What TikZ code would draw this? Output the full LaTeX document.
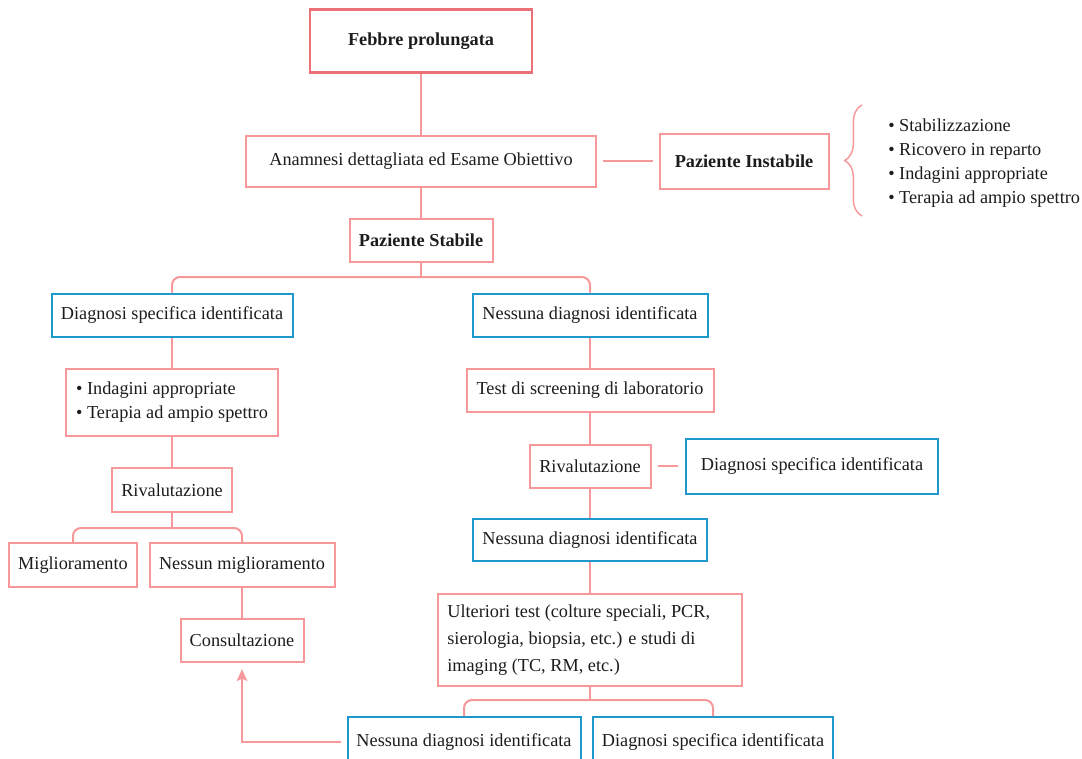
\documentclass[tikz,border=0pt]{standalone}
\usepackage{fontspec}
\setmainfont{Liberation Serif}
\usepackage{tikz}
\usetikzlibrary{arrows.meta}
\usetikzlibrary{decorations.pathreplacing}
\definecolor{pinkline}{RGB}{246,152,154}
\definecolor{febred}{RGB}{236,112,120}
\definecolor{diagblue}{RGB}{30,152,200}
\definecolor{darktext}{RGB}{28,28,28}
\tikzset{dim/.style 2 args = {minimum width=#1*0.75pt,minimum height=#2*0.75pt}}

\begin{document}
\begin{tikzpicture}[x=0.75pt,y=-0.75pt]
\tikzset{box/.style = {draw=pinkline,line width=1.5pt,inner sep=0pt,text=darktext,font=\fontsize{13.7}{18}\selectfont}}
\tikzset{bluebox/.style = {box,draw=diagblue}}
\tikzset{bold/.style = {font=\fontsize{13.7}{18}\selectfont\bfseries}}
\tikzset{link/.style = {draw=pinkline,line width=1.5pt}}
\useasboundingbox (0,0) rectangle (1082,758);
% top
\node[box,bold,dim={222}{63},draw=febred,line width=1.9pt](febbre) at (421,41) {Febbre prolungata};
\node[box,dim={350}{51}](anamnesi) at (421,161) {Anamnesi dettagliata ed Esame Obiettivo};
\node[box,bold,dim={169}{55}](instabile) at (744,161) {Paziente Instabile};
\node[box,bold,dim={143}{43}](stabile) at (421,240) {Paziente Stabile};
\node[text=darktext,anchor=west,align=left,inner sep=0pt,font=\fontsize{13.7}{18}\selectfont](cure) at (888,163) {• Stabilizzazione\\• Ricovero in reparto\\• Indagini appropriate\\• Terapia ad ampio spettro};
\coordinate (bracetop) at (862,105);
\coordinate (bracebot) at (862,216);
% left branch
\node[bluebox,dim={241}{43}](diag1) at (172,315) {Diagnosi specifica identificata};
\node[box,dim={212}{67},align=left](cure1) at (172,402) {• Indagini appropriate\\• Terapia ad ampio spettro};
\node[box,dim={120}{44}](riv1) at (172,490) {Rivalutazione};
\node[box,dim={128}{44}](migl) at (73,565) {Miglioramento};
\node[box,dim={185}{44}](nomigl) at (242,565) {Nessun miglioramento};
\node[box,dim={123}{43}](consult) at (242,640) {Consultazione};
% right branch
\node[bluebox,dim={235}{43}](nessuna1) at (590,315) {Nessuna diagnosi identificata};
\node[box,dim={247}{43}](test) at (590,390) {Test di screening di laboratorio};
\node[box,dim={121}{43}](riv2) at (590,466) {Rivalutazione};
\node[bluebox,dim={252}{55}](diag2) at (812,466) {Diagnosi specifica identificata};
\node[bluebox,dim={234}{42}](nessuna2) at (590,540) {Nessuna diagnosi identificata};
\node[box,dim={304}{92},text width=214pt,inner xsep=6.75pt,align=flush left,font=\fontsize{13.7}{20}\selectfont](ulteriori) at (590,640) {Ulteriori test (colture speciali, PCR,\\sierologia, biopsia, etc.) e studi di\\imaging (TC, RM, etc.)};
\node[bluebox,dim={233}{50}](nessuna3) at (464,742) {Nessuna diagnosi identificata};
\node[bluebox,dim={240}{50}](diag3) at (713,742) {Diagnosi specifica identificata};
\coordinate (j1) at (421,277);
\coordinate (j2) at (172,528);
\coordinate (j3) at (590,700);
% connectors
\draw[link] (febbre) -- (anamnesi);
\draw[link] (anamnesi) -- (stabile);
\draw[link,shorten <=4.5pt,shorten >=4.5pt] (anamnesi) -- (instabile);
\draw[link,line width=1.1pt,decorate,decoration={brace,amplitude=13pt}] (bracebot) -- (bracetop);
\draw[link] (stabile) -- (j1);
\draw[link,rounded corners=6pt] (j1) -| (diag1);
\draw[link,rounded corners=6pt] (j1) -| (nessuna1);
\draw[link] (diag1) -- (cure1);
\draw[link] (cure1) -- (riv1);
\draw[link] (riv1) -- (j2);
\draw[link,rounded corners=6pt] (j2) -| (migl);
\draw[link,rounded corners=6pt] (j2) -| (nomigl);
\draw[link] (nomigl) -- (consult);
\draw[link] (nessuna1) -- (test);
\draw[link] (test) -- (riv2);
\draw[link,shorten <=4.5pt,shorten >=5pt] (riv2) -- (diag2);
\draw[link] (riv2) -- (nessuna2);
\draw[link] (nessuna2) -- (ulteriori);
\draw[link] (ulteriori) -- (j3);
\draw[link,rounded corners=6pt] (j3) -| (nessuna3);
\draw[link,rounded corners=6pt] (j3) -| (diag3);
\draw[link,-{Stealth[length=9pt,width=8pt,inset=2pt]},shorten <=4pt,shorten >=5pt] (nessuna3.west) -| (consult.south);
\end{tikzpicture}
\end{document}
